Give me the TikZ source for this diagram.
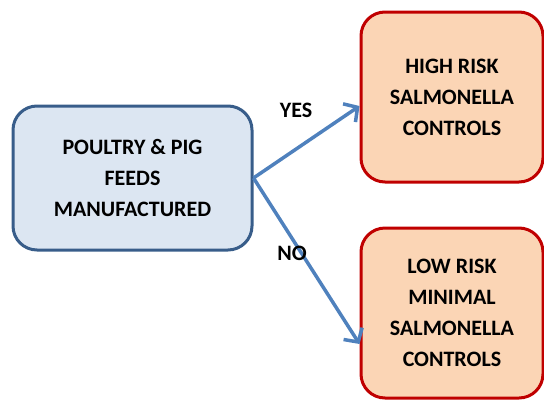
\documentclass[tikz,border=0pt]{standalone}
\usepackage{fontspec}
\setmainfont{Carlito}
\usetikzlibrary{arrows.meta}

\definecolor{feedfill}{RGB}{220,230,242}
\definecolor{feedline}{RGB}{56,93,138}
\definecolor{riskfill}{RGB}{251,213,181}
\definecolor{riskline}{RGB}{192,0,0}
\definecolor{arrowblue}{RGB}{79,129,189}

\begin{document}
\begin{tikzpicture}[x=1pt,y=1pt,yscale=-1,xscale=1,
  feedbox/.style={draw=feedline,fill=feedfill,line width=3pt,rounded corners=24pt,
    minimum width=239pt,minimum height=144pt,align=center,
    font=\fontsize{22}{31}\selectfont\bfseries},
  riskbox/.style={draw=riskline,fill=riskfill,line width=3pt,rounded corners=24pt,
    minimum width=182pt,minimum height=170pt,align=center,
    font=\fontsize{22}{31}\selectfont\bfseries},
  flow/.style={draw=arrowblue,line width=3.5pt,-{Straight Barb[length=10pt,width=22pt]}},
  answer/.style={font=\fontsize{22}{24}\selectfont\bfseries}]
\useasboundingbox (0,0) rectangle (544,400);

\node [feedbox] (feeds) at (132.5,178) {POULTRY \& PIG\\FEEDS\\MANUFACTURED};
\node [riskbox] (high) at (452,97) {HIGH RISK\\SALMONELLA\\CONTROLS};
\node [riskbox] (low) at (452,313) {LOW RISK\\MINIMAL\\SALMONELLA\\CONTROLS};

\draw [flow] (feeds.east) -- ([yshift=9pt]high.west) ;
\draw [flow] (feeds.east) -- ([yshift=31pt]low.west) ;

\node [answer] (yes) at (296,110) {YES};
\node [answer] (no) at (292,253) {NO};

\end{tikzpicture}
\end{document}
